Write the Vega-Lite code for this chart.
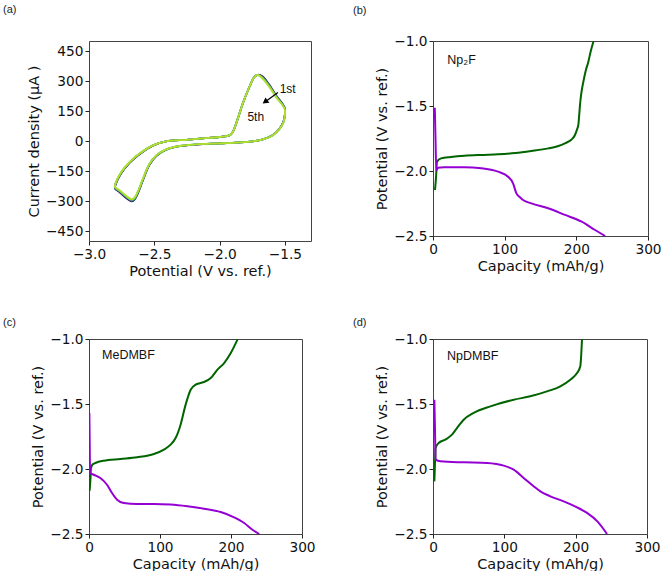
{
  "$schema": "https://vega.github.io/schema/vega-lite/v6.json",
  "padding": {"left": 2, "top": 3, "right": 0, "bottom": 0},
  "background": "white",
  "config": {
    "view": {"stroke": "#444", "strokeWidth": 1},
    "font": "DejaVu Sans",
    "axis": {
      "domain": false, "grid": false, "ticks": true, "tickColor": "#222", "tickSize": 4, "tickWidth": 1,
      "labelFont": "DejaVu Sans", "labelFontSize": 13.7, "labelColor": "#111", "labelPadding": 2,
      "labelFlush": false, "labelBound": false, "labelOverlap": false,
      "titleFont": "DejaVu Sans", "titleFontSize": 14.5, "titleFontWeight": "normal", "titleColor": "#111", "titlePadding": 4
    },
    "title": {"font": "Liberation Sans", "fontSize": 11, "fontWeight": "normal", "color": "#222", "anchor": "start", "frame": "group"}
  },
  "datasets": {
    "cv": [
      {"i":0,"v":-1.5,"1st":164,"2nd":163,"3rd":161,"4th":160,"5th":158},
      {"i":1,"v":-1.5,"1st":133,"2nd":132,"3rd":131,"4th":129,"5th":128},
      {"i":2,"v":-1.51,"1st":99,"2nd":98,"3rd":97,"4th":96,"5th":95},
      {"i":3,"v":-1.543,"1st":60,"2nd":60,"3rd":59,"4th":59,"5th":58},
      {"i":4,"v":-1.594,"1st":29,"2nd":29,"3rd":29,"4th":28,"5th":28},
      {"i":5,"v":-1.67,"1st":8,"2nd":8,"3rd":8,"4th":8,"5th":8},
      {"i":6,"v":-1.746,"1st":-2,"2nd":-2,"3rd":-2,"4th":-2,"5th":-2},
      {"i":7,"v":-1.874,"1st":-8,"2nd":-8,"3rd":-8,"4th":-8,"5th":-8},
      {"i":8,"v":-2.0,"1st":-12,"2nd":-12,"3rd":-12,"4th":-12,"5th":-12},
      {"i":9,"v":-2.18,"1st":-18,"2nd":-18,"3rd":-17,"4th":-17,"5th":-17},
      {"i":10,"v":-2.307,"1st":-26,"2nd":-26,"3rd":-26,"4th":-25,"5th":-25},
      {"i":11,"v":-2.409,"1st":-44,"2nd":-43,"3rd":-43,"4th":-42,"5th":-42},
      {"i":12,"v":-2.485,"1st":-75,"2nd":-74,"3rd":-73,"4th":-73,"5th":-72},
      {"i":13,"v":-2.536,"1st":-118,"2nd":-116,"3rd":-115,"4th":-114,"5th":-113},
      {"i":14,"v":-2.587,"1st":-196,"2nd":-194,"3rd":-192,"4th":-190,"5th":-188},
      {"i":15,"v":-2.626,"1st":-262,"2nd":-260,"3rd":-257,"4th":-255,"5th":-252},
      {"i":16,"v":-2.656,"1st":-297,"2nd":-295,"3rd":-292,"4th":-289,"5th":-286},
      {"i":17,"v":-2.676,"1st":-302,"2nd":-299,"3rd":-296,"4th":-293,"5th":-290},
      {"i":18,"v":-2.715,"1st":-285,"2nd":-282,"3rd":-279,"4th":-277,"5th":-274},
      {"i":19,"v":-2.766,"1st":-256,"2nd":-253,"3rd":-251,"4th":-248,"5th":-246},
      {"i":20,"v":-2.8,"1st":-239,"2nd":-237,"3rd":-235,"4th":-232,"5th":-230},
      {"i":21,"v":-2.8,"1st":-227,"2nd":-225,"3rd":-222,"4th":-220,"5th":-218},
      {"i":22,"v":-2.753,"1st":-161,"2nd":-160,"3rd":-158,"4th":-157,"5th":-155},
      {"i":23,"v":-2.689,"1st":-109,"2nd":-108,"3rd":-107,"4th":-106,"5th":-105},
      {"i":24,"v":-2.613,"1st":-66,"2nd":-65,"3rd":-64,"4th":-64,"5th":-63},
      {"i":25,"v":-2.511,"1st":-23,"2nd":-23,"3rd":-22,"4th":-22,"5th":-22},
      {"i":26,"v":-2.409,"1st":-2,"2nd":-2,"3rd":-2,"4th":-2,"5th":-2},
      {"i":27,"v":-2.256,"1st":6,"2nd":6,"3rd":6,"4th":6,"5th":6},
      {"i":28,"v":-2.129,"1st":13,"2nd":13,"3rd":13,"4th":13,"5th":13},
      {"i":29,"v":-2.001,"1st":20,"2nd":20,"3rd":20,"4th":20,"5th":20},
      {"i":30,"v":-1.925,"1st":28,"2nd":28,"3rd":28,"4th":28,"5th":28},
      {"i":31,"v":-1.899,"1st":45,"2nd":45,"3rd":45,"4th":45,"5th":45},
      {"i":32,"v":-1.861,"1st":111,"2nd":111,"3rd":111,"4th":111,"5th":111},
      {"i":33,"v":-1.823,"1st":186,"2nd":186,"3rd":186,"4th":186,"5th":186},
      {"i":34,"v":-1.772,"1st":270,"2nd":270,"3rd":270,"4th":270,"5th":270},
      {"i":35,"v":-1.734,"1st":320,"2nd":320,"3rd":320,"4th":320,"5th":320},
      {"i":36,"v":-1.708,"1st":331,"2nd":331,"3rd":331,"4th":331,"5th":331},
      {"i":37,"v":-1.67,"1st":323,"2nd":320,"3rd":317,"4th":314,"5th":311},
      {"i":38,"v":-1.619,"1st":281,"2nd":278,"3rd":275,"4th":273,"5th":270},
      {"i":39,"v":-1.568,"1st":229,"2nd":227,"3rd":224,"4th":222,"5th":220},
      {"i":40,"v":-1.517,"1st":185,"2nd":183,"3rd":182,"4th":180,"5th":178},
      {"i":41,"v":-1.5,"1st":166,"2nd":165,"3rd":163,"4th":162,"5th":160}
    ],
    "b": [
      {"s":"charge","x":2.8,"y":-2.146},{"s":"charge","x":4.2,"y":-2.05},{"s":"charge","x":5.6,"y":-1.928},
      {"s":"charge","x":11.2,"y":-1.903},{"s":"charge","x":25,"y":-1.892},{"s":"charge","x":43.9,"y":-1.882},
      {"s":"charge","x":70,"y":-1.876},{"s":"charge","x":90.7,"y":-1.872},{"s":"charge","x":115,"y":-1.862},
      {"s":"charge","x":137.4,"y":-1.846},{"s":"charge","x":160.7,"y":-1.826},{"s":"charge","x":175,"y":-1.808},
      {"s":"charge","x":184.1,"y":-1.787},{"s":"charge","x":193,"y":-1.76},{"s":"charge","x":198.1,"y":-1.723},
      {"s":"charge","x":201,"y":-1.68},{"s":"charge","x":202.8,"y":-1.646},{"s":"charge","x":204,"y":-1.57},
      {"s":"charge","x":205.1,"y":-1.492},{"s":"charge","x":207,"y":-1.4},{"s":"charge","x":209.8,"y":-1.313},
      {"s":"charge","x":213,"y":-1.23},{"s":"charge","x":216.8,"y":-1.159},{"s":"charge","x":220,"y":-1.08},
      {"s":"charge","x":223.8,"y":-1.005},
      {"s":"discharge","x":2.5,"y":-1.513},{"s":"discharge","x":3.5,"y":-1.75},{"s":"discharge","x":4.5,"y":-1.995},
      {"s":"discharge","x":7,"y":-1.975},{"s":"discharge","x":15,"y":-1.972},{"s":"discharge","x":43.9,"y":-1.972},
      {"s":"discharge","x":67.3,"y":-1.979},{"s":"discharge","x":90.7,"y":-2.005},{"s":"discharge","x":104.7,"y":-2.044},
      {"s":"discharge","x":111.7,"y":-2.095},{"s":"discharge","x":116.4,"y":-2.172},{"s":"discharge","x":121,"y":-2.2},
      {"s":"discharge","x":125.7,"y":-2.223},{"s":"discharge","x":137.4,"y":-2.249},{"s":"discharge","x":160.7,"y":-2.287},
      {"s":"discharge","x":184.1,"y":-2.338},{"s":"discharge","x":207.5,"y":-2.39},{"s":"discharge","x":226.2,"y":-2.454},
      {"s":"discharge","x":240.2,"y":-2.5}
    ],
    "c": [
      {"s":"charge","x":0.9,"y":-2.167},{"s":"charge","x":2.0,"y":-2.08},{"s":"charge","x":2.8,"y":-1.992},
      {"s":"charge","x":5,"y":-1.965},{"s":"charge","x":8.9,"y":-1.954},{"s":"charge","x":20.7,"y":-1.936},
      {"s":"charge","x":44.3,"y":-1.923},{"s":"charge","x":67.8,"y":-1.91},{"s":"charge","x":91.4,"y":-1.885},
      {"s":"charge","x":105.5,"y":-1.851},{"s":"charge","x":114.9,"y":-1.813},{"s":"charge","x":122,"y":-1.762},
      {"s":"charge","x":129,"y":-1.659},{"s":"charge","x":136.1,"y":-1.505},{"s":"charge","x":143.2,"y":-1.39},
      {"s":"charge","x":150.3,"y":-1.351},{"s":"charge","x":156,"y":-1.34},{"s":"charge","x":162,"y":-1.331},
      {"s":"charge","x":171.5,"y":-1.3},{"s":"charge","x":180.9,"y":-1.236},{"s":"charge","x":190.3,"y":-1.185},
      {"s":"charge","x":199.7,"y":-1.108},{"s":"charge","x":209.1,"y":-1.005},
      {"s":"discharge","x":0.5,"y":-1.569},{"s":"discharge","x":1.0,"y":-1.8},{"s":"discharge","x":1.4,"y":-2.031},
      {"s":"discharge","x":6.6,"y":-2.044},{"s":"discharge","x":16,"y":-2.069},{"s":"discharge","x":25.4,"y":-2.121},
      {"s":"discharge","x":32.5,"y":-2.185},{"s":"discharge","x":39.6,"y":-2.236},{"s":"discharge","x":49,"y":-2.262},
      {"s":"discharge","x":67.8,"y":-2.269},{"s":"discharge","x":91.4,"y":-2.269},{"s":"discharge","x":114.9,"y":-2.274},
      {"s":"discharge","x":138.5,"y":-2.287},{"s":"discharge","x":162,"y":-2.305},{"s":"discharge","x":185.6,"y":-2.331},
      {"s":"discharge","x":204.4,"y":-2.372},{"s":"discharge","x":218.5,"y":-2.415},{"s":"discharge","x":230.3,"y":-2.467},
      {"s":"discharge","x":239.8,"y":-2.5}
    ],
    "d": [
      {"s":"charge","x":1.9,"y":-2.095},{"s":"charge","x":2.8,"y":-1.95},{"s":"charge","x":3.7,"y":-1.838},
      {"s":"charge","x":7.9,"y":-1.8},{"s":"charge","x":17.3,"y":-1.774},{"s":"charge","x":26.6,"y":-1.736},
      {"s":"charge","x":33.6,"y":-1.685},{"s":"charge","x":43,"y":-1.621},{"s":"charge","x":57,"y":-1.569},
      {"s":"charge","x":80.4,"y":-1.518},{"s":"charge","x":113.1,"y":-1.467},{"s":"charge","x":136.4,"y":-1.441},
      {"s":"charge","x":159.8,"y":-1.403},{"s":"charge","x":178.5,"y":-1.364},{"s":"charge","x":192.5,"y":-1.313},
      {"s":"charge","x":201.9,"y":-1.262},{"s":"charge","x":206.5,"y":-1.21},{"s":"charge","x":207.5,"y":-1.146},
      {"s":"charge","x":208.9,"y":-1.0},
      {"s":"discharge","x":1.9,"y":-1.467},{"s":"discharge","x":2.8,"y":-1.7},{"s":"discharge","x":3.7,"y":-1.928},
      {"s":"discharge","x":10.3,"y":-1.941},{"s":"discharge","x":43,"y":-1.949},{"s":"discharge","x":75.7,"y":-1.954},
      {"s":"discharge","x":99.1,"y":-1.974},{"s":"discharge","x":113.1,"y":-2.005},{"s":"discharge","x":127.1,"y":-2.069},
      {"s":"discharge","x":141.1,"y":-2.133},{"s":"discharge","x":150.5,"y":-2.172},{"s":"discharge","x":164.5,"y":-2.21},
      {"s":"discharge","x":183.2,"y":-2.249},{"s":"discharge","x":201.9,"y":-2.295},{"s":"discharge","x":215.9,"y":-2.338},
      {"s":"discharge","x":230.4,"y":-2.403},{"s":"discharge","x":244,"y":-2.5}
    ]
  },
  "columns": 2,
  "spacing": {"row": 98, "column": 122},
  "bounds": "flush",
  "resolve": {"scale": {"color": "independent", "x": "independent", "y": "independent"}},
  "concat": [
    {
      "width": 222, "height": 200,
      "title": {"text": "(a)", "dx": -86, "offset": 26},
      "layer": [
        {
          "data": {"name": "cv"},
          "transform": [{"fold": ["1st", "2nd", "3rd", "4th", "5th"], "as": ["cycle", "a"]}],
          "mark": {"type": "line", "interpolate": "catmull-rom", "strokeWidth": 1.8},
          "encoding": {
            "x": {"field": "v", "type": "quantitative", "scale": {"domain": [-3.0, -1.3], "nice": false, "zero": false},
                  "axis": {"values": [-3, -2.5, -2, -1.5], "format": ".1f", "title": "Potential (V vs. ref.)"}},
            "y": {"field": "a", "type": "quantitative", "scale": {"domain": [-500, 500], "nice": false},
                  "axis": {"values": [-450, -300, -150, 0, 150, 300, 450], "labelOverlap": false, "tickCount": 7, "title": "Current density (μA )"}},
            "color": {"field": "cycle", "type": "nominal",
                      "scale": {"domain": ["1st", "2nd", "3rd", "4th", "5th"], "range": ["#440154", "#3b528b", "#21918c", "#5ec962", "#b5de2b"]},
                      "legend": null},
            "order": {"field": "i", "type": "quantitative"}
          }
        },
        {
          "data": {"values": [{"from": "1st", "to": "5th"}]},
          "mark": {"type": "rule", "color": "black", "strokeWidth": 1.2},
          "encoding": {"x": {"datum": -1.553}, "y": {"datum": 243}, "x2": {"datum": -1.65}, "y2": {"datum": 196}}
        },
        {
          "data": {"values": [{"from": "1st", "to": "5th"}]},
          "mark": {"type": "point", "shape": "triangle-up", "filled": true, "color": "black", "opacity": 1, "size": 45, "angle": 234},
          "encoding": {"x": {"datum": -1.652}, "y": {"datum": 196}}
        },
        {
          "data": {"values": [{"label": "1st"}]},
          "mark": {"type": "text", "font": "Liberation Sans", "fontSize": 12, "align": "left", "baseline": "middle", "color": "#111"},
          "encoding": {"x": {"datum": -1.54}, "y": {"datum": 260}, "text": {"field": "label"}}
        },
        {
          "data": {"values": [{"label": "5th"}]},
          "mark": {"type": "text", "font": "Liberation Sans", "fontSize": 12, "align": "left", "baseline": "middle", "color": "#111"},
          "encoding": {"x": {"datum": -1.787}, "y": {"datum": 118}, "text": {"field": "label"}}
        }
      ]
    },
    {
      "width": 215, "height": 195,
      "title": {"text": "(b)", "dx": -80, "offset": 18},
      "layer": [
        {
          "data": {"name": "b"},
          "mark": {"type": "line", "interpolate": "monotone", "strokeWidth": 2, "clip": true},
          "encoding": {
            "x": {"field": "x", "type": "quantitative", "scale": {"domain": [0, 300], "nice": false},
                  "axis": {"values": [0, 50, 100, 150, 200, 250, 300], "title": "Capacity (mAh/g)"}},
            "y": {"field": "y", "type": "quantitative", "scale": {"domain": [-2.5, -1.0], "nice": false, "zero": false},
                  "axis": {"values": [-2.5, -2.0, -1.5, -1.0], "format": ".1f", "title": "Potential (V vs. ref.)"}},
            "color": {"field": "s", "type": "nominal", "scale": {"domain": ["charge", "discharge"], "range": ["#006400", "#9400d3"]}, "legend": null}
          }
        },
        {
          "data": {"values": [{"label": "Np₂F"}]},
          "mark": {"type": "text", "font": "Liberation Sans", "fontSize": 12.5, "align": "left", "baseline": "middle", "color": "#111"},
          "encoding": {"x": {"datum": 20}, "y": {"datum": -1.146}, "text": {"field": "label"}}
        }
      ]
    },
    {
      "width": 213, "height": 195,
      "title": {"text": "(c)", "dx": -86, "offset": 4},
      "layer": [
        {
          "data": {"name": "c"},
          "mark": {"type": "line", "interpolate": "monotone", "strokeWidth": 2, "clip": true},
          "encoding": {
            "x": {"field": "x", "type": "quantitative", "scale": {"domain": [0, 300], "nice": false},
                  "axis": {"values": [0, 50, 100, 150, 200, 250, 300], "title": "Capacity (mAh/g)"}},
            "y": {"field": "y", "type": "quantitative", "scale": {"domain": [-2.5, -1.0], "nice": false, "zero": false},
                  "axis": {"values": [-2.5, -2.0, -1.5, -1.0], "format": ".1f", "title": "Potential (V vs. ref.)"}},
            "color": {"field": "s", "type": "nominal", "scale": {"domain": ["charge", "discharge"], "range": ["#006400", "#9400d3"]}, "legend": null}
          }
        },
        {
          "data": {"values": [{"label": "MeDMBF"}]},
          "mark": {"type": "text", "font": "Liberation Sans", "fontSize": 12.5, "align": "left", "baseline": "middle", "color": "#111"},
          "encoding": {"x": {"datum": 18.4}, "y": {"datum": -1.12}, "text": {"field": "label"}}
        }
      ]
    },
    {
      "width": 214, "height": 195,
      "title": {"text": "(d)", "dx": -80, "offset": 4},
      "layer": [
        {
          "data": {"name": "d"},
          "mark": {"type": "line", "interpolate": "monotone", "strokeWidth": 2, "clip": true},
          "encoding": {
            "x": {"field": "x", "type": "quantitative", "scale": {"domain": [0, 300], "nice": false},
                  "axis": {"values": [0, 50, 100, 150, 200, 250, 300], "title": "Capacity (mAh/g)"}},
            "y": {"field": "y", "type": "quantitative", "scale": {"domain": [-2.5, -1.0], "nice": false, "zero": false},
                  "axis": {"values": [-2.5, -2.0, -1.5, -1.0], "format": ".1f", "title": "Potential (V vs. ref.)"}},
            "color": {"field": "s", "type": "nominal", "scale": {"domain": ["charge", "discharge"], "range": ["#006400", "#9400d3"]}, "legend": null}
          }
        },
        {
          "data": {"values": [{"label": "NpDMBF"}]},
          "mark": {"type": "text", "font": "Liberation Sans", "fontSize": 12.5, "align": "left", "baseline": "middle", "color": "#111"},
          "encoding": {"x": {"datum": 19.6}, "y": {"datum": -1.133}, "text": {"field": "label"}}
        }
      ]
    }
  ]
}
